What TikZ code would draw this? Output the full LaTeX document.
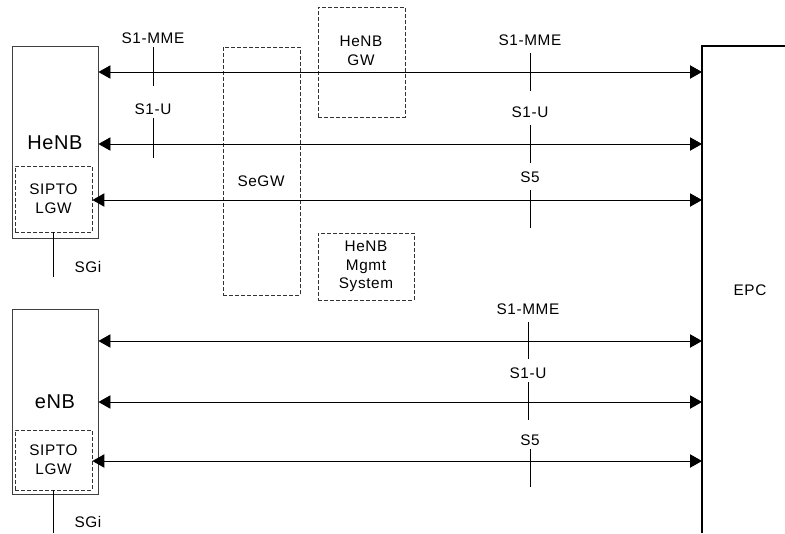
\documentclass[tikz,border=0pt]{standalone}
\usepackage{fontspec}
\setmainfont{Liberation Sans}
\usetikzlibrary{arrows.meta,positioning}
\tikzset{>={Triangle[length=9pt,width=10pt]}}
\tikzset{
  nebox/.style={draw=black!75, line width=0.7pt, inner sep=0pt},
  dbox/.style={draw=black!80, dash pattern=on 3pt off 1.5pt, line width=0.6pt, inner sep=0pt},
  big/.style={font=\fontsize{15}{18}\selectfont\addfontfeature{LetterSpace=3}},
  small/.style={font=\fontsize{11.5}{14}\selectfont\addfontfeature{LetterSpace=4}, align=center},
  iface/.style={<->, line width=0.7pt},
  tick/.style={line width=0.7pt}
}

\begin{document}
\begin{tikzpicture}[x=0.75pt, y=-0.75pt]
    \useasboundingbox (0,0) rectangle (785,533);

    % HeNB with its local gateway
    \node[nebox, minimum width=64.5pt, minimum height=144pt] (henb) at (55,142) {};
    \node[big] (henblbl) at (55,143) {HeNB};
    \node[dbox, small, minimum width=57.75pt, minimum height=49.5pt] (lgwA) at (53.5,199) {SIPTO\\LGW};
    \draw[line width=1.1pt] (lgwA.south) -- ++(0,45) coordinate (sgiA);
    \node[small] (sgiAlbl) at (88,267) {SGi};

    % eNB with its local gateway
    \node[nebox, minimum width=64.5pt, minimum height=138.75pt] (enb) at (55,401.5) {};
    \node[big] (enblbl) at (55,402) {eNB};
    \node[dbox, small, minimum width=57.75pt, minimum height=45pt] (lgwB) at (53.5,460) {SIPTO\\LGW};
    \draw[line width=1.1pt] (lgwB.south) -- ++(0,43) coordinate (sgiB);
    \node[small] (sgiBlbl) at (88,522) {SGi};

    % dashed network elements
    \node[dbox, minimum width=57.75pt, minimum height=186pt] (segw) at (261.5,171) {};
    \node[small] (segwlbl) at (261,181) {SeGW};
    \node[dbox, minimum width=65.25pt, minimum height=82.5pt] (hgw) at (361.5,62) {};
    \node[small] (hgwlbl) at (361,51) {HeNB\\GW};
    \node[dbox, small, minimum width=72pt, minimum height=50.25pt] (mgmt) at (366,266.5) {HeNB\\Mgmt\\System};

    % EPC
    \draw[line width=1.5pt] (785,46) coordinate (epcR) -- (702,46) coordinate (epc) -- (702,533);
    \node[small] (epclbl) at (750,290) {EPC};
    \foreach \n/\y in {a/72, b/144, c/200, d/341, e/402, f/461}
        \coordinate (epc\n) at (702,\y);

    % interfaces
    \draw[iface] (henb.east |- epca) -- (epca);
    \draw[iface] (henb.east |- epcb) -- (epcb);
    \draw[iface] (lgwA.east |- epcc) -- (epcc);
    \draw[iface] (enb.east |- epcd) -- (epcd);
    \draw[iface] (enb.east |- epce) -- (epce);
    \draw[iface] (lgwB.east |- epcf) -- (epcf);

    % interface labels
    \node[small] (mmeL) at (153,38) {S1-MME};
    \draw[tick] (153,47) -- (153,86);
    \node[small] (s1uL) at (153,109) {S1-U};
    \draw[tick] (153,118) -- (153,158);
    \foreach \nm/\t/\x/\y/\a/\b in {mmeA/S1-MME/530/40/53/91, s1uA/S1-U/530/112/125/163, s5A/S5/530/177/190/228,
                                    mmeB/S1-MME/528/309/322/359, s1uB/S1-U/528/373/382/420, s5B/S5/530/440/449/487}
    {
        \node[small] (\nm) at (\x,\y) {\t};
        \draw[tick] (\x,\a) -- (\x,\b);
    }
\end{tikzpicture}
\end{document}
